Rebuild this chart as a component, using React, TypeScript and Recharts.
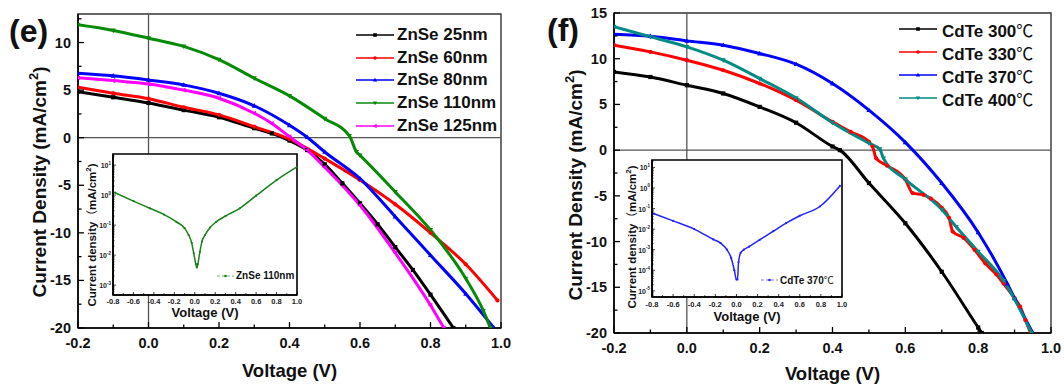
import React from "react";
import { LineChart, Line, XAxis, YAxis, ReferenceLine, ReferenceArea, Legend } from "recharts";

const FONT = '"Liberation Sans", Arial, Helvetica, sans-serif';

// ---- panel (e): ZnSe thickness, J-V ----
const zn25V = [-0.2, -0.1, 0, 0.1, 0.2, 0.3, 0.35, 0.4, 0.45, 0.5, 0.55, 0.6, 0.65, 0.7, 0.75, 0.8, 0.865];
const zn25J = [4.84, 4.25, 3.65, 2.9, 2.15, 1.0, 0.45, -0.3, -1.3, -2.8, -4.8, -6.9, -9.1, -11.5, -13.9, -16.5, -20];
const zn60V = [-0.2, -0.1, 0, 0.1, 0.2, 0.3, 0.4, 0.5, 0.6, 0.7, 0.8, 0.9, 0.99];
const zn60J = [5.3, 4.67, 4.1, 3.2, 2.4, 1.16, -0.15, -2.2, -4.45, -7.0, -10.0, -13.3, -17.1];
const zn80V = [-0.2, -0.1, 0, 0.1, 0.2, 0.3, 0.4, 0.45, 0.5, 0.6, 0.7, 0.8, 0.9, 0.98];
const zn80J = [6.78, 6.5, 6.07, 5.55, 4.67, 3.35, 1.3, 0.05, -1.5, -4.3, -8.3, -12.35, -16.4, -20];
const zn110V = [-0.2, -0.1, 0, 0.1, 0.2, 0.3, 0.4, 0.5, 0.57, 0.59, 0.6, 0.7, 0.8, 0.9, 0.95, 0.97];
const zn110J = [11.86, 11.27, 10.46, 9.6, 8.2, 6.25, 4.4, 2.0, 0.2, -1.5, -1.85, -5.7, -9.7, -14.8, -18.2, -20];
const zn125V = [-0.2, -0.1, 0, 0.1, 0.2, 0.3, 0.35, 0.4, 0.45, 0.5, 0.6, 0.7, 0.8, 0.838];
const zn125J = [6.3, 6.0, 5.65, 5.0, 4.15, 2.57, 1.5, 0.1, -1.3, -3.1, -7.1, -12.1, -17.6, -20];

// inset (e): ZnSe 110nm, log10 of |J|
const znInsetV = [-0.78, -0.6, -0.44, -0.3, -0.18, -0.1, -0.06, -0.03, -0.01, 0.01, 0.02, 0.03, 0.05, 0.07, 0.1, 0.15, 0.21, 0.3, 0.44, 0.6, 0.8, 1.0];
const znInsetLog = [0.08, -0.2, -0.44, -0.65, -0.89, -1.1, -1.33, -1.6, -1.94, -2.3, -2.41, -2.3, -1.89, -1.55, -1.33, -1.08, -0.89, -0.7, -0.44, -0.02, 0.5, 0.94];

// ---- panel (f): CdTe temperature, J-V ----
const cd300V = [-0.2, -0.1, 0, 0.1, 0.2, 0.3, 0.4, 0.42, 0.5, 0.6, 0.7, 0.8, 0.81];
const cd300J = [8.56, 8.0, 7.1, 6.2, 4.73, 3.0, 0.4, 0, -3.6, -8.0, -13.3, -19.4, -20];
const cd330V = [-0.2, -0.1, 0, 0.1, 0.2, 0.3, 0.4, 0.45, 0.5, 0.51, 0.52, 0.55, 0.6, 0.62, 0.65, 0.67, 0.7, 0.72, 0.73, 0.76, 0.79, 0.82, 0.85, 0.87, 0.9, 0.915, 0.93, 0.944];
const cd330J = [11.48, 10.75, 9.84, 8.74, 7.29, 5.46, 3.1, 2.0, 0.9, 0.4, -0.9, -1.7, -3.2, -4.7, -4.9, -5.3, -6.3, -7.4, -8.9, -9.6, -10.9, -12.4, -13.6, -14.6, -16.2, -17.1, -18.6, -20];
const cd370V = [-0.2, -0.1, 0, 0.1, 0.2, 0.3, 0.4, 0.5, 0.6, 0.7, 0.8, 0.88, 0.9, 0.95];
const cd370J = [12.68, 12.46, 11.95, 11.48, 10.57, 9.4, 7.28, 4.37, 0.85, -3.6, -9.0, -14.6, -16.2, -20];
const cd400V = [-0.2, -0.1, 0, 0.1, 0.2, 0.3, 0.4, 0.5, 0.53, 0.54, 0.6, 0.7, 0.74, 0.8, 0.87, 0.9, 0.947];
const cd400J = [13.5, 12.4, 11.3, 9.84, 7.83, 5.7, 3.0, 0.75, 0.1, -0.9, -3.2, -6.5, -8.4, -11.1, -14.3, -16.3, -20];

// inset (f): CdTe 370, log10 of |J|
const cdInsetV = [-0.78, -0.6, -0.4, -0.22, -0.15, -0.09, -0.05, -0.02, 0.0, 0.01, 0.02, 0.04, 0.07, 0.12, 0.22, 0.35, 0.47, 0.6, 0.79, 0.98];
const cdInsetLog = [-1.25, -1.6, -2.0, -2.5, -2.68, -3.0, -3.4, -4.0, -4.45, -4.45, -3.6, -3.15, -3.0, -2.85, -2.52, -2.1, -1.71, -1.35, -0.9, 0.1];

// ticks
const mainXTicks = [-0.2, -0.1, 0, 0.1, 0.2, 0.3, 0.4, 0.5, 0.6, 0.7, 0.8, 0.9, 1.0];
const yTicksE = [-20, -17.5, -15, -12.5, -10, -7.5, -5, -2.5, 0, 2.5, 5, 7.5, 10, 12.5];
const yTicksF = [-20, -17.5, -15, -12.5, -10, -7.5, -5, -2.5, 0, 2.5, 5, 7.5, 10, 12.5, 15];
const insetXTicks = [-0.8, -0.7, -0.6, -0.5, -0.4, -0.3, -0.2, -0.1, 0, 0.1, 0.2, 0.3, 0.4, 0.5, 0.6, 0.7, 0.8, 0.9, 1.0];
const decadesE = [-3, -2, -1, 0, 1];
const decadesF = [-5, -4, -3, -2, -1, 0, 1];
const minorMult = [2, 3, 4, 5, 6, 7, 8, 9];

const pts = (v: number[], j: number[]) => v.map((x, i) => ({ v: x, j: j[i] }));
const logTicks = (dec: number[], lo: number, hi: number) => {
  const out: number[] = [];
  [dec[0] - 1, ...dec].forEach((d) => {
    if (d >= lo && d <= hi) out.push(d);
    minorMult.forEach((k) => {
      const t = d + Math.log10(k);
      if (t >= lo && t <= hi) out.push(t);
    });
  });
  return out.sort((a, b) => a - b);
};

const znSeries = [
  { name: "ZnSe 25nm", color: "#000000", shape: "square", data: pts(zn25V, zn25J) },
  { name: "ZnSe 60nm", color: "#ff0000", shape: "circle", data: pts(zn60V, zn60J) },
  { name: "ZnSe 80nm", color: "#0000ff", shape: "up", data: pts(zn80V, zn80J) },
  { name: "ZnSe 110nm", color: "#078a07", shape: "down", data: pts(zn110V, zn110J) },
  { name: "ZnSe 125nm", color: "#ff00ff", shape: "left", data: pts(zn125V, zn125J) },
];
const cdSeries = [
  { name: "CdTe 300℃", color: "#000000", shape: "square", data: pts(cd300V, cd300J) },
  { name: "CdTe 330℃", color: "#ff0000", shape: "circle", data: pts(cd330V, cd330J) },
  { name: "CdTe 370℃", color: "#0000ff", shape: "up", data: pts(cd370V, cd370J) },
  { name: "CdTe 400℃", color: "#008b84", shape: "down", data: pts(cd400V, cd400J) },
];

function Marker({ cx, cy, shape, color, s = 2.3 }: any) {
  if (cx == null || cy == null) return null;
  if (shape === "square") return <rect x={cx - s} y={cy - s} width={2 * s} height={2 * s} fill={color} />;
  if (shape === "circle") return <circle cx={cx} cy={cy} r={s} fill={color} />;
  let p = "";
  if (shape === "up") p = `${cx},${cy - s * 1.3} ${cx - s * 1.2},${cy + s * 0.9} ${cx + s * 1.2},${cy + s * 0.9}`;
  if (shape === "down") p = `${cx},${cy + s * 1.3} ${cx - s * 1.2},${cy - s * 0.9} ${cx + s * 1.2},${cy - s * 0.9}`;
  if (shape === "left") p = `${cx - s * 1.3},${cy} ${cx + s * 0.9},${cy - s * 1.2} ${cx + s * 0.9},${cy + s * 1.2}`;
  return <polygon points={p} fill={color} />;
}

function MainYTick({ x, y, payload }: any) {
  const major = payload.value % 5 === 0;
  return (
    <g>
      <line x1={x} x2={x + (major ? 6 : 3.5)} y1={y} y2={y} stroke="#000" strokeWidth={1.3} />
      {major && (
        <text x={x - 7} y={y + 5} textAnchor="end" fontFamily={FONT} fontWeight="bold" fontSize={14.5} fill="#111">
          {payload.value}
        </text>
      )}
    </g>
  );
}

function MainXTick({ x, y, payload }: any) {
  const major = Math.abs(Math.round(payload.value * 10)) % 2 === 0;
  return (
    <g>
      <line x1={x} x2={x} y1={y} y2={y - (major ? 6 : 3.5)} stroke="#000" strokeWidth={1.3} />
      {major && (
        <text x={x} y={y + 20} textAnchor="middle" fontFamily={FONT} fontWeight="bold" fontSize={14.5} fill="#111">
          {payload.value.toFixed(1)}
        </text>
      )}
    </g>
  );
}

function InsetXTick({ x, y, payload, dy }: any) {
  const major = Math.abs(Math.round(payload.value * 10)) % 2 === 0;
  return (
    <g>
      <line x1={x} x2={x} y1={y} y2={y - (major ? 3 : 1.8)} stroke="#000" strokeWidth={0.8} />
      {major && (
        <text x={x} y={y + dy} textAnchor="middle" fontFamily={FONT} fontWeight="bold" fontSize={7.5} fill="#222">
          {payload.value.toFixed(1)}
        </text>
      )}
    </g>
  );
}

function InsetYTick({ x, y, payload }: any) {
  const v = payload.value;
  const major = Math.abs(v - Math.round(v)) < 1e-6;
  return (
    <g>
      <line x1={x} x2={x + (major ? 3 : 1.6)} y1={y} y2={y} stroke="#000" strokeWidth={0.7} />
      {major && (
        <text x={x - 2} y={y + 3} textAnchor="end" fontFamily={FONT} fontWeight="bold" fontSize={7} fill="#222">
          10<tspan dy={-3.5} fontSize={4.5}>{Math.round(v)}</tspan>
        </text>
      )}
    </g>
  );
}

function LegendName({ name, size }: any) {
  const parts = name.split("℃");
  return (
    <span style={{ fontFamily: FONT, fontWeight: "bold", fontSize: size, color: "#111", whiteSpace: "nowrap" }}>
      {parts[0]}
      {parts.length > 1 && <span style={{ fontWeight: "normal", fontFamily: '"Noto Sans CJK SC", sans-serif' }}>℃</span>}
    </span>
  );
}

const mainLegend = (series: any[], rowH: number, lineW: number, gap: number) => () => (
  <div>
    {series.map((s) => (
      <div key={s.name} style={{ display: "flex", alignItems: "center", height: rowH }}>
        <svg width={lineW} height={12} style={{ marginRight: gap }}>
          <line x1={0} x2={lineW} y1={6} y2={6} stroke={s.color} strokeWidth={1.6} />
          <Marker cx={lineW / 2} cy={6} shape={s.shape} color={s.color} s={1.8} />
        </svg>
        <LegendName name={s.name} size={17} />
      </div>
    ))}
  </div>
);

const insetLegend = (name: string, color: string) => () => (
  <div style={{ display: "flex", alignItems: "center" }}>
    <svg width={17} height={8} style={{ marginRight: 2 }}>
      <line x1={0} x2={17} y1={4} y2={4} stroke={color} strokeWidth={1} strokeDasharray="3 2" opacity={0.6} />
      <circle cx={8.5} cy={4} r={1.3} fill={color} />
    </svg>
    <LegendName name={name} size={10} />
  </div>
);

function MainPanel({ series, yDomain, yTicks, width, margin, yAxisW, xAxisH, yTitle, xTitle, legendPos, legendRow, legendLineW, legendGap }: any) {
  return (
    <LineChart width={width} height={387} margin={margin}>
      <XAxis
        type="number"
        dataKey="v"
        domain={[-0.2, 1.0]}
        ticks={mainXTicks}
        interval={0}
        tick={<MainXTick />}
        tickLine={false}
        tickSize={0}
        tickMargin={0}
        height={xAxisH}
        allowDataOverflow
        axisLine={{ stroke: "#000", strokeWidth: 1.6 }}
        label={{
          content: () => (
            <text x={xTitle[0]} y={xTitle[1]} textAnchor="middle" fontFamily={FONT} fontWeight="bold" fontSize={18.5} fill="#111">
              Voltage (V)
            </text>
          ),
        }}
      />
      <YAxis
        type="number"
        domain={yDomain}
        ticks={yTicks}
        interval={0}
        tick={<MainYTick />}
        tickLine={false}
        tickSize={0}
        tickMargin={0}
        width={yAxisW}
        allowDataOverflow
        axisLine={{ stroke: "#000", strokeWidth: 1.6 }}
        label={{
          content: () => (
            <text
              x={yTitle[0]}
              y={yTitle[1]}
              transform={`rotate(-90, ${yTitle[0]}, ${yTitle[1]})`}
              textAnchor="middle"
              fontFamily={FONT}
              fontWeight="bold"
              fontSize={19}
              fill="#111"
            >
              Current Density (mA/cm<tspan dy={-8} fontSize={13}>2</tspan>
              <tspan dy={8}>)</tspan>
            </text>
          ),
        }}
      />
      <ReferenceArea x1={-0.2} x2={1.0} y1={yDomain[0]} y2={yDomain[1]} fill="none" stroke="#333" strokeWidth={1.4} />
      <ReferenceLine y={0} stroke="#555" strokeWidth={1.3} />
      <ReferenceLine x={0} stroke="#555" strokeWidth={1.3} />
      {series.map((s: any) => (
        <Line
          key={s.name}
          data={s.data}
          dataKey="j"
          name={s.name}
          type="monotone"
          stroke={s.color}
          strokeWidth={3}
          dot={(p: any) => <Marker key={p.index} cx={p.cx} cy={p.cy} shape={s.shape} color={s.color} s={2.1} />}
          isAnimationActive={false}
        />
      ))}
      <Legend
        layout="horizontal"
        verticalAlign="middle"
        align="center"
        wrapperStyle={{ left: legendPos[0], top: legendPos[1], width: 190 }}
        content={mainLegend(series, legendRow, legendLineW, legendGap)}
      />
    </LineChart>
  );
}

function InsetPanel({ data, color, yDomain, yTicks, width, yAxisW, xAxisH, right, yTitle, xTitle, tickDy, legendName, legendPos }: any) {
  return (
    <LineChart width={width} height={172} margin={{ top: 6, right, left: 0, bottom: 0 }}>
      <XAxis
        type="number"
        dataKey="v"
        domain={[-0.8, 1.0]}
        ticks={insetXTicks}
        interval={0}
        tick={<InsetXTick dy={tickDy} />}
        tickLine={false}
        tickSize={0}
        tickMargin={0}
        height={xAxisH}
        allowDataOverflow
        axisLine={{ stroke: "#000", strokeWidth: 1.6 }}
        label={{
          content: () => (
            <text x={xTitle[0]} y={xTitle[1]} textAnchor="middle" fontFamily={FONT} fontWeight="bold" fontSize={13} fill="#111">
              Voltage (V)
            </text>
          ),
        }}
      />
      <YAxis
        type="number"
        dataKey="l"
        domain={yDomain}
        ticks={yTicks}
        interval={0}
        tick={<InsetYTick />}
        tickLine={false}
        tickSize={0}
        tickMargin={0}
        width={yAxisW}
        allowDataOverflow
        axisLine={{ stroke: "#000", strokeWidth: 1.6 }}
        label={{
          content: () => (
            <text
              x={yTitle[0]}
              y={yTitle[1]}
              transform={`rotate(-90, ${yTitle[0]}, ${yTitle[1]})`}
              textAnchor="middle"
              fontFamily={FONT}
              fontWeight="bold"
              fontSize={11.5}
              fill="#111"
            >
              Current density<tspan fontFamily='"Noto Sans CJK SC", sans-serif' fontWeight="normal">（</tspan>mA/cm
              <tspan dy={-5} fontSize={8}>2</tspan>
              <tspan dy={5}>)</tspan>
            </text>
          ),
        }}
      />
      <ReferenceArea x1={-0.8} x2={1.0} y1={yDomain[0]} y2={yDomain[1]} fill="#ffffff" fillOpacity={1} stroke="#000" strokeWidth={1.6} />
      <Line
        data={data}
        dataKey="l"
        type="monotone"
        stroke={color}
        strokeWidth={1.5}
        dot={(p: any) => <circle key={p.index} cx={p.cx} cy={p.cy} r={1.1} fill={color} />}
        isAnimationActive={false}
      />
      <Legend
        layout="horizontal"
        verticalAlign="middle"
        align="center"
        wrapperStyle={{ left: legendPos[0], top: legendPos[1], width: 90 }}
        content={insetLegend(legendName, color)}
      />
    </LineChart>
  );
}

const znInset = znInsetV.map((v, i) => ({ v, l: znInsetLog[i] }));
const cdInset = cdInsetV.map((v, i) => ({ v, l: cdInsetLog[i] }));

export default function App() {
  const label = { position: "absolute" as const, fontFamily: FONT, fontWeight: "bold" as const, fontSize: 32, color: "#111", lineHeight: "32px" };
  return (
    <div style={{ position: "absolute", left: 0, top: 0, width: 1064, height: 387, background: "#fff", overflow: "hidden" }}>
      <div style={{ position: "absolute", left: 0, top: 0 }}>
        <MainPanel
          series={znSeries}
          yDomain={[-20, 13]}
          yTicks={yTicksE}
          width={530}
          margin={{ top: 14, right: 29, left: 0, bottom: 0 }}
          yAxisW={78}
          xAxisH={59}
          yTitle={[46, 182]}
          xTitle={[289.5, 377]}
          legendPos={[356, 23.5]}
          legendRow={22.75}
          legendLineW={38}
          legendGap={3}
        />
      </div>
      <div style={{ position: "absolute", left: 84, top: 148 }}>
        <InsetPanel
          data={znInset}
          color="#1a801a"
          yDomain={[-3.33, 1.37]}
          yTicks={logTicks(decadesE, -3.33, 1.37)}
          width={220}
          yAxisW={29}
          xAxisH={25}
          right={7}
          yTitle={[12, 87]}
          xTitle={[121, 169]}
          tickDy={9}
          legendName="ZnSe 110nm"
          legendPos={[133, 122]}
        />
      </div>
      <div style={{ position: "absolute", left: 532, top: 0 }}>
        <MainPanel
          series={cdSeries}
          yDomain={[-20, 15]}
          yTicks={yTicksF}
          width={532}
          margin={{ top: 13, right: 13, left: 0, bottom: 0 }}
          yAxisW={82}
          xAxisH={54}
          yTitle={[50, 185]}
          xTitle={[300.5, 380]}
          legendPos={[367, 17.5]}
          legendRow={23}
          legendLineW={38}
          legendGap={5}
        />
      </div>
      <div style={{ position: "absolute", left: 620, top: 154 }}>
        <InsetPanel
          data={cdInset}
          color="#2222ff"
          yDomain={[-5.3, 1.36]}
          yTicks={logTicks(decadesF, -5.3, 1.36)}
          width={230}
          yAxisW={32}
          xAxisH={29}
          right={8}
          yTitle={[16, 83]}
          xTitle={[127, 167]}
          tickDy={10}
          legendName="CdTe 370℃"
          legendPos={[141, 118]}
        />
      </div>
      <div style={{ ...label, left: 9, top: 15 }}>(e)</div>
      <div style={{ ...label, left: 547, top: 14 }}>(f)</div>
    </div>
  );
}
